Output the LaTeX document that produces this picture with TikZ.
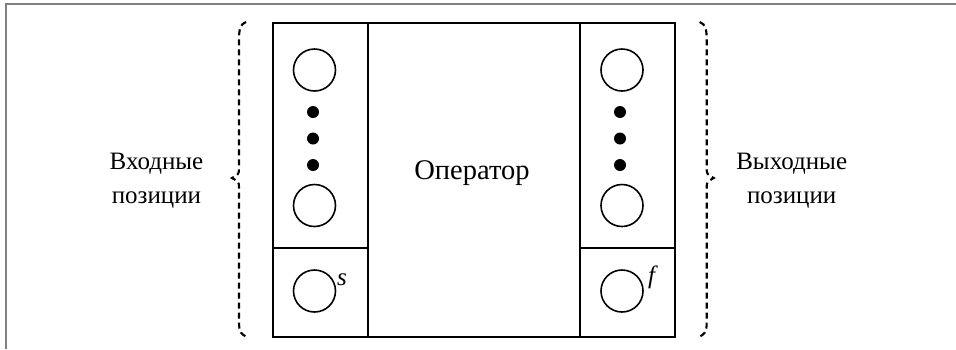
\documentclass[tikz,border=0pt]{standalone}
\usepackage{fontspec}
\setmainfont{Liberation Serif}
\begin{document}
\begin{tikzpicture}[x=1pt,y=-1pt,
  frame/.style={draw=black!50, line width=1.8pt},
  cell/.style={draw, line width=2pt, rectangle, inner sep=0pt, anchor=north west},
  place/.style={draw, line width=1.6pt, circle, inner sep=0pt, minimum size=42pt},
  dot/.style={fill, circle, inner sep=0pt, minimum size=12pt},
  brace/.style={line width=2.1pt, dash pattern=on 6pt off 4pt},
  lbl/.style={font=\fontsize{25}{29}\selectfont, anchor=base},
  sub/.style={font=\fontsize{25}{29}\selectfont\itshape, anchor=center}]
  \useasboundingbox (0,0) rectangle (956,349);
  % page frame
  \draw[frame] (5.7,349) -- (5.7,4.3) -- (956,4.3);

  % input column, operator, output column
  \node[cell, minimum width=95pt, minimum height=225pt] (inTop) at (272,22) {};
  \node[cell, minimum width=95pt, minimum height=89pt] (inStart) at (272,247) {};
  \node[cell, minimum width=212pt, minimum height=314pt] (op) at (367,22) {};
  \node[cell, minimum width=95pt, minimum height=225pt] (outTop) at (579,22) {};
  \node[cell, minimum width=95pt, minimum height=89pt] (outFinal) at (579,247) {};
  \node[font=\fontsize{28.5}{32}\selectfont, anchor=base] (opText) at (472,179) {Оператор};

  % input places
  \node[place] (in1) at (314.5,70) {};
  \node[dot] (inD1) at (313,112) {};
  \node[dot] (inD2) at (313,138.5) {};
  \node[dot] (inD3) at (313,165) {};
  \node[place] (inN) at (314.5,205.5) {};
  \node[place] (inS) at (314.5,291) {};
  \node[sub] (sLabel) at (342,280) {s};

  % output places
  \node[place] (out1) at (622,70) {};
  \node[dot] (outD1) at (620,112) {};
  \node[dot] (outD2) at (620,138.5) {};
  \node[dot] (outD3) at (620,165) {};
  \node[place] (outN) at (622,205.5) {};
  \node[place] (outF) at (622,291) {};
  \node[sub] (fLabel) at (651.7,277) {f};

  % dashed braces
  \draw[brace] (246,22) .. controls (240,24) and (239,30) .. (239,40) -- (239,168)
    .. controls (239,174) .. (232,178) .. controls (239,182) .. (239,188) -- (239,322)
    .. controls (239,332) and (241,335) .. (248,337);
  \draw[brace] (699.7,22) .. controls (705.7,24) and (706.7,30) .. (706.7,40) -- (706.7,168)
    .. controls (706.7,174) .. (713.7,178) .. controls (706.7,182) .. (706.7,188) -- (706.7,322)
    .. controls (706.7,332) and (704.7,335) .. (697.7,337);

  % side captions
  \node[lbl] (inCapA) at (156.5,169.3) {Входные};
  \node[lbl] (inCapB) at (156.5,203) {позиции};
  \node[lbl] (outCapA) at (791.7,169.3) {Выходные};
  \node[lbl] (outCapB) at (791.7,203) {позиции};
\end{tikzpicture}
\end{document}
